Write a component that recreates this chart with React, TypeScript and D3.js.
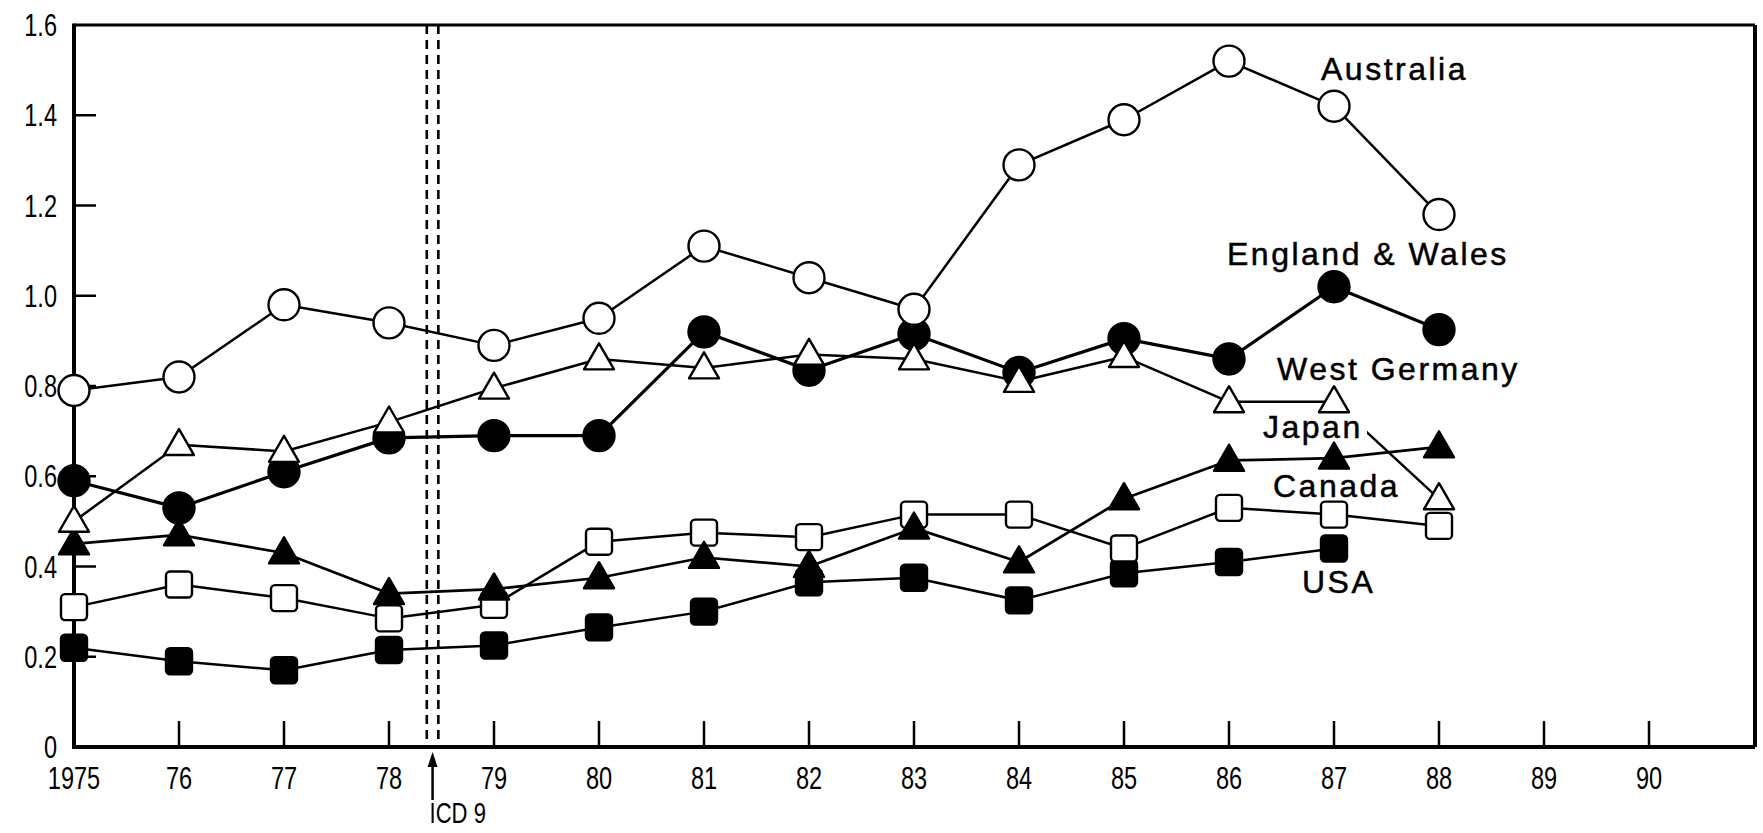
import React from "react";
import * as d3 from "d3";

const years = [1975, 1976, 1977, 1978, 1979, 1980, 1981, 1982, 1983, 1984, 1985, 1986, 1987, 1988];
const australia = [0.79, 0.82, 0.98, 0.94, 0.89, 0.95, 1.11, 1.04, 0.97, 1.29, 1.39, 1.52, 1.42, 1.18];
const englandWales = [0.59, 0.53, 0.61, 0.685, 0.69, 0.69, 0.92, 0.835, 0.915, 0.83, 0.905, 0.86, 1.02, 0.925];
const westGermany = [0.5, 0.67, 0.655, 0.72, 0.795, 0.86, 0.84, 0.87, 0.86, 0.81, 0.865, 0.765, 0.765, 0.55];
const japan = [0.45, 0.47, 0.43, 0.34, 0.35, 0.375, 0.42, 0.4, 0.485, 0.41, 0.55, 0.635, 0.64, 0.665];
const canada = [0.31, 0.36, 0.33, 0.285, 0.315, 0.455, 0.475, 0.465, 0.515, 0.515, 0.44, 0.53, 0.515, 0.49];
const usa = [0.22, 0.19, 0.17, 0.215, 0.225, 0.265, 0.3, 0.365, 0.375, 0.325, 0.385, 0.41, 0.44];

const xTickYears = [1975, 1976, 1977, 1978, 1979, 1980, 1981, 1982, 1983, 1984, 1985, 1986, 1987, 1988, 1989, 1990];
const xTickLabels = ["1975", "76", "77", "78", "79", "80", "81", "82", "83", "84", "85", "86", "87", "88", "89", "90"];
const yTicks = [0, 0.2, 0.4, 0.6, 0.8, 1.0, 1.2, 1.4, 1.6];
const yTickLabels = ["0", "0.2", "0.4", "0.6", "0.8", "1.0", "1.2", "1.4", "1.6"];
const icdYears = [1978.36, 1978.47];
const icdLabel = "ICD 9";

type Marker = "circle" | "triangle" | "square";
const seriesList: { name: string; values: number[]; marker: Marker; filled: boolean; lw: number }[] = [
  { name: "USA", values: usa, marker: "square", filled: true, lw: 2.5 },
  { name: "Canada", values: canada, marker: "square", filled: false, lw: 2.5 },
  { name: "Japan", values: japan, marker: "triangle", filled: true, lw: 2.7 },
  { name: "England & Wales", values: englandWales, marker: "circle", filled: true, lw: 3.2 },
  { name: "West Germany", values: westGermany, marker: "triangle", filled: false, lw: 2.5 },
  { name: "Australia", values: australia, marker: "circle", filled: false, lw: 2.5 },
];

const labels = [
  { text: "Australia", x: 1321, y: 80 },
  { text: "England & Wales", x: 1227, y: 265 },
  { text: "West Germany", x: 1277, y: 380 },
  { text: "Japan", x: 1263, y: 438, bg: true },
  { text: "Canada", x: 1273, y: 497 },
  { text: "USA", x: 1302, y: 593 },
];

const W = 1763;
const H = 833;
const left = 74;
const right = 1755;
const top = 25;
const bottom = 747;

const sans = "'Liberation Sans', Arial, Helvetica, sans-serif";

function NarrowText({ x, y, anchor, children, dy = 0, size = 31 }: { x: number; y: number; anchor: string; children: string; dy?: number; size?: number }) {
  return (
    <text
      transform={`translate(${x},${y + dy}) scale(0.76,1)`}
      textAnchor={anchor}
      fontFamily={sans}
      fontSize={size}
      fill="#000"
    >
      {children}
    </text>
  );
}

export default function App() {
  const x = d3.scaleLinear().domain([1975, 1990]).range([left, 1649]);
  const y = d3.scaleLinear().domain([0, 1.6]).range([bottom, top]);
  const line = d3
    .line<number>()
    .x((_, i) => x(years[i]))
    .y((d) => y(d));

  const marker = (m: Marker, filled: boolean, cx: number, cy: number, key: string) => {
    const fill = filled ? "#000" : "#fff";
    if (m === "circle") {
      return <circle key={key} cx={cx} cy={cy} r={15.5} fill={fill} stroke="#000" strokeWidth={2.4} />;
    }
    if (m === "square") {
      const s = 26;
      return (
        <rect key={key} x={cx - s / 2} y={cy - s / 2} width={s} height={s} rx={4} fill={fill} stroke="#000" strokeWidth={2.4} />
      );
    }
    const w = 30;
    const h = 26;
    const p = `${cx},${cy - h * 0.6} ${cx + w / 2},${cy + h * 0.4} ${cx - w / 2},${cy + h * 0.4}`;
    return <polygon key={key} points={p} fill={fill} stroke="#000" strokeWidth={2.4} strokeLinejoin="round" />;
  };

  const arrowX = (x(icdYears[0]) + x(icdYears[1])) / 2;

  return (
    <svg
      width={W}
      height={H}
      style={{ position: "absolute", left: 0, top: 0, background: "#fff" }}
      viewBox={`0 0 ${W} ${H}`}
    >
      <rect x={0} y={0} width={W} height={H} fill="#fff" />
      {/* frame */}
      <line x1={left} y1={top} x2={right} y2={top} stroke="#000" strokeWidth={3} />
      <line x1={right} y1={top} x2={right} y2={bottom} stroke="#000" strokeWidth={4} />
      <line x1={left} y1={top - 1.5} x2={left} y2={bottom + 2} stroke="#000" strokeWidth={4} />
      <line x1={left} y1={bottom} x2={right} y2={bottom} stroke="#000" strokeWidth={4} />

      {/* y ticks */}
      {yTicks.map((t, i) => (
        <g key={"yt" + i}>
          {t > 0 && t < 1.6 && <line x1={left} x2={left + 22} y1={y(t)} y2={y(t)} stroke="#000" strokeWidth={2.5} />}
          <NarrowText x={57} y={y(t)} dy={11} anchor="end">
            {yTickLabels[i]}
          </NarrowText>
        </g>
      ))}

      {/* x ticks */}
      {xTickYears.map((yr, i) => (
        <g key={"xt" + i}>
          {i > 0 && <line x1={x(yr)} x2={x(yr)} y1={bottom} y2={bottom - 26} stroke="#000" strokeWidth={2.5} />}
          <NarrowText x={x(yr)} y={789} anchor="middle">
            {xTickLabels[i]}
          </NarrowText>
        </g>
      ))}

      {/* ICD 9 dashed lines */}
      {icdYears.map((yr, i) => (
        <line
          key={"icd" + i}
          x1={x(yr)}
          x2={x(yr)}
          y1={top}
          y2={bottom}
          stroke="#000"
          strokeWidth={2.6}
          strokeDasharray="9 6"
        />
      ))}
      <line x1={arrowX} x2={arrowX} y1={800} y2={762} stroke="#000" strokeWidth={2.5} />
      <polygon points={`${arrowX},752 ${arrowX - 5},767 ${arrowX + 5},767`} fill="#000" />
      <NarrowText x={arrowX - 3} y={823} anchor="start" size={29}>
        {icdLabel}
      </NarrowText>

      {/* lines */}
      {seriesList.map((s) => (
        <path key={"l" + s.name} d={line(s.values) || ""} fill="none" stroke="#000" strokeWidth={s.lw} strokeLinejoin="round" />
      ))}

      {/* label backgrounds */}
      {labels
        .filter((l) => l.bg)
        .map((l) => (
          <rect key={"bg" + l.text} x={l.x - 2} y={l.y - 26} width={106} height={34} fill="#fff" />
        ))}

      {/* markers */}
      {seriesList.map((s) =>
        s.values.map((v, i) => marker(s.marker, s.filled, x(years[i]), y(v), s.name + i))
      )}

      {/* series labels */}
      {labels.map((l) => (
        <text
          key={"lab" + l.text}
          x={l.x}
          y={l.y}
          fontFamily={sans}
          fontSize={32}
          letterSpacing={2.5}
          fill="#000"
          stroke="#000"
          strokeWidth={0.5}
        >
          {l.text}
        </text>
      ))}
    </svg>
  );
}
